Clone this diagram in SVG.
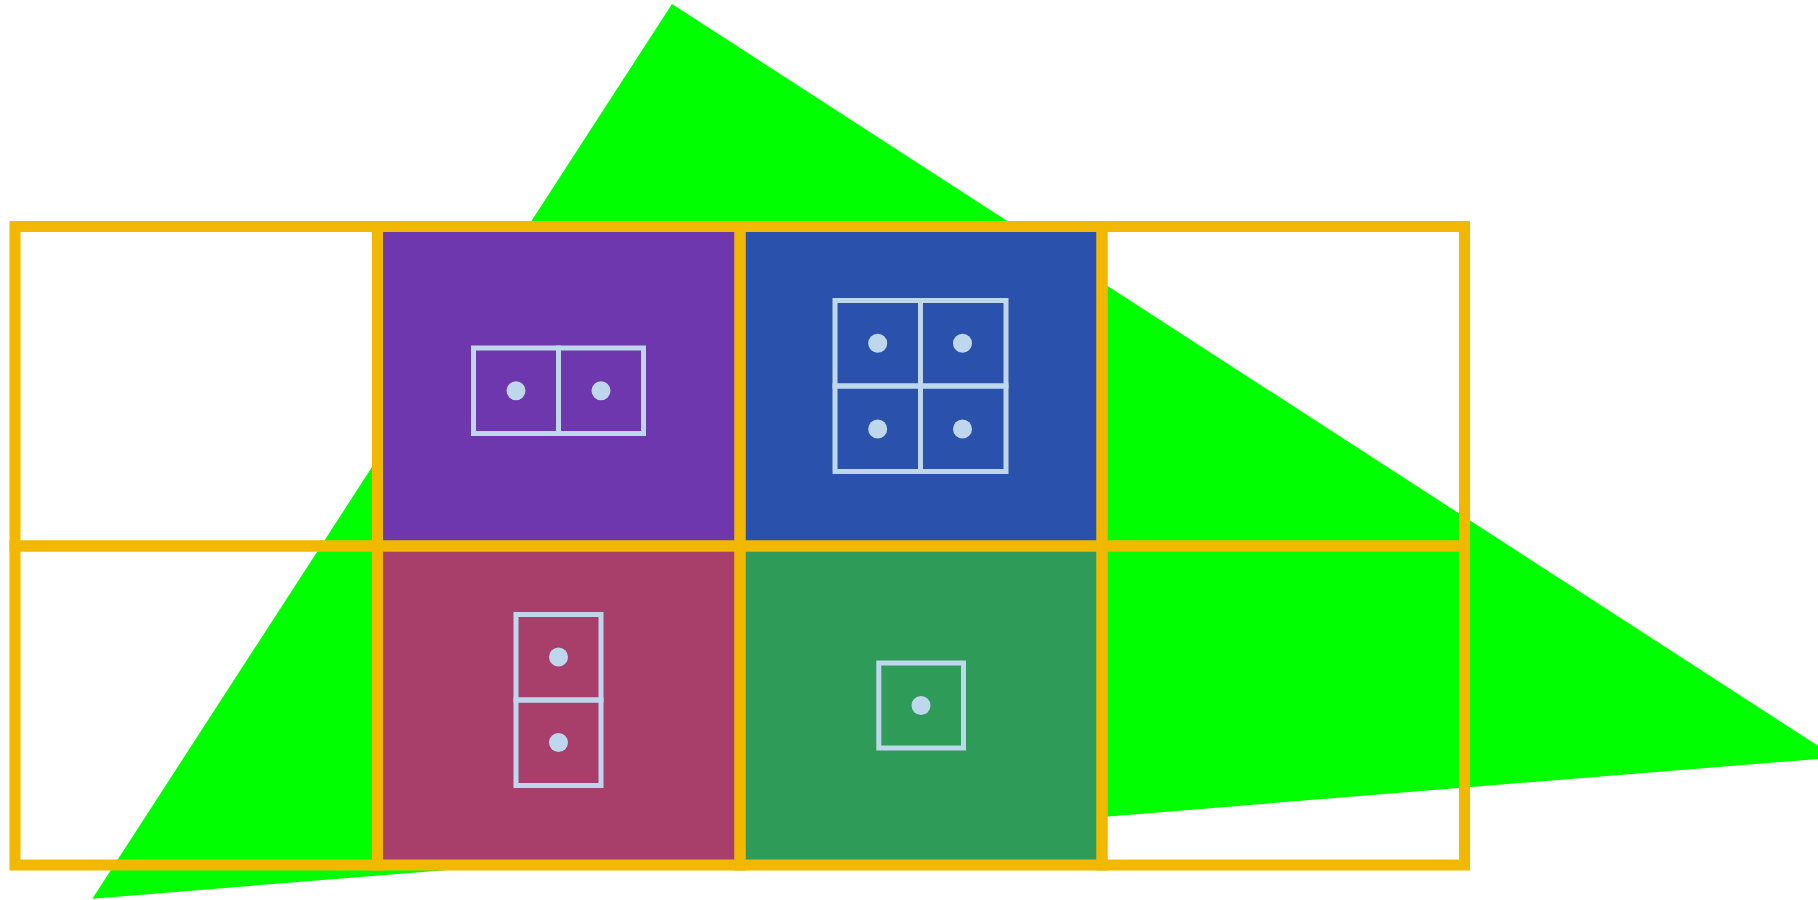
<svg xmlns="http://www.w3.org/2000/svg" width="1818" height="900" viewBox="0 0 1818 900">
<style>
.cell{stroke:#F2B800;stroke-width:11;fill:none}
.box{stroke:#BFD7EC;stroke-width:5;fill:none}
.dot{fill:#BFD7EC}
</style>
<rect x="0" y="0" width="1818" height="900" fill="#FFFFFF"/>
<polygon id="triangle" points="672,4 1836,757.5 92.3,898.7" fill="#00FF00"/>
<g id="fills">
<rect x="377.5" y="226.5" width="362.5" height="319.5" fill="#6E37AE"/>
<rect x="740" y="226.5" width="362" height="319.5" fill="#2A52AD"/>
<rect x="377.5" y="546" width="362.5" height="319" fill="#A83E6A"/>
<rect x="740" y="546" width="362" height="319" fill="#2E9C58"/>
</g>
<g id="grid">
<rect class="cell" x="15" y="226.5" width="362.5" height="319.5"/>
<rect class="cell" x="377.5" y="226.5" width="362.5" height="319.5"/>
<rect class="cell" x="740" y="226.5" width="362" height="319.5"/>
<rect class="cell" x="1102" y="226.5" width="362.5" height="319.5"/>
<rect class="cell" x="15" y="546" width="362.5" height="319"/>
<rect class="cell" x="377.5" y="546" width="362.5" height="319"/>
<rect class="cell" x="740" y="546" width="362" height="319"/>
<rect class="cell" x="1102" y="546" width="362.5" height="319"/>
</g>
<g id="purple-items">
<rect class="box" x="473.5" y="348" width="85" height="85.5"/>
<rect class="box" x="558.5" y="348" width="85" height="85.5"/>
<circle class="dot" cx="516" cy="390.7" r="9.5"/>
<circle class="dot" cx="601" cy="390.7" r="9.5"/>
</g>
<g id="blue-items">
<rect class="box" x="835" y="300.5" width="85.5" height="85.5"/>
<rect class="box" x="920.5" y="300.5" width="85.5" height="85.5"/>
<rect class="box" x="835" y="386" width="85.5" height="85.5"/>
<rect class="box" x="920.5" y="386" width="85.5" height="85.5"/>
<circle class="dot" cx="877.7" cy="343.2" r="9.5"/>
<circle class="dot" cx="962.5" cy="343.2" r="9.5"/>
<circle class="dot" cx="877.7" cy="429" r="9.5"/>
<circle class="dot" cx="962.5" cy="429" r="9.5"/>
</g>
<g id="red-items">
<rect class="box" x="516" y="614.5" width="85" height="85.5"/>
<rect class="box" x="516" y="700" width="85" height="85.5"/>
<circle class="dot" cx="558.5" cy="657" r="9.5"/>
<circle class="dot" cx="558.5" cy="742.5" r="9.5"/>
</g>
<g id="green-items">
<rect class="box" x="878.8" y="663" width="84.7" height="85"/>
<circle class="dot" cx="921" cy="705.5" r="9.5"/>
</g>
</svg>
